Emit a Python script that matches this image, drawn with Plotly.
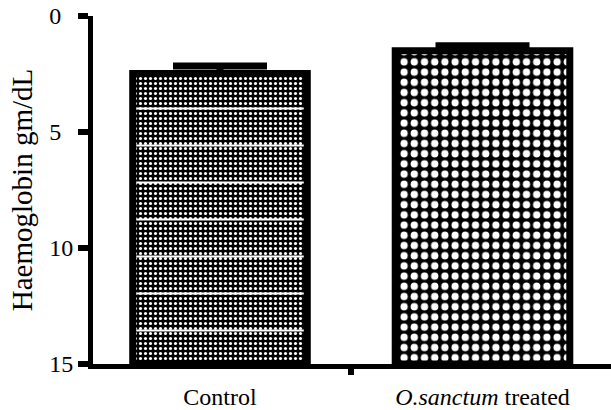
import plotly.graph_objects as go

# ---- data ----
categories = ["Control", "<i>O.sanctum</i> treated"]
means = [2.48, 1.50]          # Haemoglobin gm/dL (bar ends)
errors = [0.32, 0.22]         # error bar lengths
y_ticks = [0, 5, 10, 15]
y_tick_labels = ["0\u00a0\u00a0", "5\u00a0\u00a0", "10", "15"]
axis_bottom = 15              # reversed axis: bars grow from 15 upwards

x = list(range(len(categories)))
heights = [m - axis_bottom for m in means]
bases = [axis_bottom] * len(categories)
dividers = [(x[i] + x[i + 1]) / 2 for i in range(len(x) - 1)]

fig = go.Figure()

# base fill patterns
fig.add_trace(go.Bar(
    x=x, y=heights, base=bases, width=0.665,
    marker=dict(
        color="black",
        line=dict(color="black", width=0),
        pattern=dict(
            shape=[".", "."],
            bgcolor=["black", "black"],
            fgcolor=["white", "white"],
            size=[5, 10.2],
            solidity=[0.3, 0.4],
            fillmode="replace",
        ),
    ),
    showlegend=False, hoverinfo="skip",
))

# overlay: horizontal white streaks + outline + error bars
fig.add_trace(go.Bar(
    x=x, y=heights, base=bases, width=0.665,
    marker=dict(
        color="rgba(0,0,0,0)",
        line=dict(color="black", width=7),
        pattern=dict(
            shape=["-", ""],
            fgcolor="white",
            bgcolor="rgba(0,0,0,0)",
            size=37,
            solidity=0.06,
            fillmode="replace",
        ),
    ),
    error_y=dict(type="data", symmetric=False, array=[0] * len(errors),
                 arrayminus=errors, color="black", thickness=7, width=47),
    showlegend=False, hoverinfo="skip",
))

fig.update_layout(
    template="none",
    width=611, height=410,
    margin=dict(l=93, r=0, t=16, b=46),
    paper_bgcolor="white", plot_bgcolor="white",
    barmode="overlay",
    font=dict(family="Liberation Serif", size=24, color="black"),
    xaxis=dict(
        automargin=False,
        range=[-0.4838, 1.4895],
        tickmode="array", tickvals=x, ticktext=categories,
        ticks="", showline=True, linewidth=5, linecolor="black",
        showgrid=False, zeroline=False, ticklabelstandoff=7,
        minor=dict(tickmode="array", tickvals=dividers, ticks="outside",
                   ticklen=6, tickwidth=6, tickcolor="black", showgrid=False),
    ),
    yaxis=dict(
        automargin=False,
        range=[15, 0],
        tickmode="array", tickvals=y_ticks, ticktext=y_tick_labels,
        ticks="outside", ticklen=10, tickwidth=6, tickcolor="black",
        ticklabeloverflow="allow",
        showline=True, linewidth=5, linecolor="black",
        showgrid=False, zeroline=False,
        title=dict(text="Haemoglobin gm/dL", standoff=10),
    ),
)

# remove the browser's default 8px page margin so the figure fills the window
fig.write_html("out.html", config={"displayModeBar": False},
               post_script="document.body.style.margin='0';")
